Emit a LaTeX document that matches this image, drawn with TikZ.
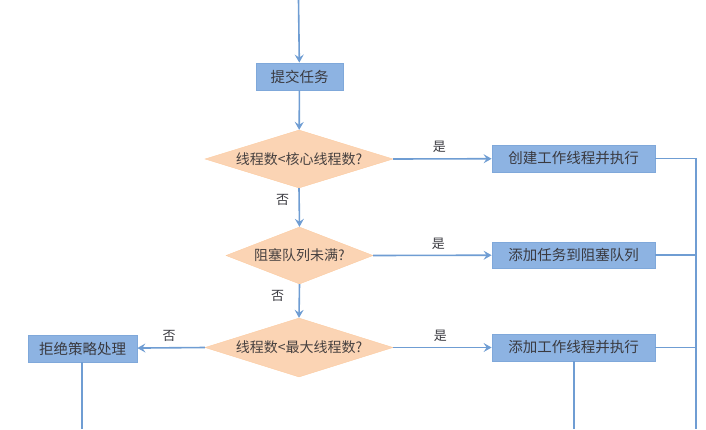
\documentclass[tikz,border=0pt]{standalone}
\usepackage{fontspec}
\setmainfont{Noto Sans CJK SC}
\usepackage{xcolor}
\usepackage{tikz}
\usetikzlibrary{positioning}
\usetikzlibrary{arrows.meta}
\usetikzlibrary{shapes.geometric}
\definecolor{boxblue}{HTML}{8DB3E2}
\definecolor{boxedge}{HTML}{7FA8DA}
\definecolor{peach}{HTML}{FBD4B4}
\definecolor{flowblue}{HTML}{6F9DD3}
\definecolor{inkgray}{HTML}{3A3A40}
\tikzset {
  % rectangular step boxes
  task/.style = {draw=boxedge, fill=boxblue, line width=0.8pt, minimum height=27pt,
    inner sep=0pt, font=\fontsize{14.5}{15}\selectfont, text=inkgray},
  % decision diamonds
  check/.style = {diamond, fill=peach, draw=peach!90!orange, inner sep=0pt,
    font=\fontsize{14}{15}\selectfont, text=inkgray!90!brown},
  % connectors
  flow/.style = {flowblue, line width=1.6pt},
  go/.style = {flow, -{Stealth[length=8pt, width=9pt, inset=3pt]}},
  % yes / no labels
  ans/.style = {font=\fontsize{13}{14}\selectfont, text=inkgray},
}

\begin{document}
\begin{tikzpicture}[x=1pt, y=-1pt]
        \useasboundingbox (0, 0) rectangle (706, 429);

        \coordinate (in) at (298.5, 0);
        \node[task, minimum width=87pt] (submit) at (299.5, 76.5) {提交任务};
        \node[check, aspect=3.24, minimum width=188pt, minimum height=58pt] (core) at (299, 159) {线程数<核心线程数?};
        \node[check, aspect=2.58, minimum width=147pt, minimum height=57pt] (queue) at (299.5, 255.5) {阻塞队列未满?};
        \node[check, aspect=3.2, minimum width=188pt, minimum height=59pt] (max) at (299, 347.5) {线程数<最大线程数?};

        \node[task, minimum width=163pt] (create) at (573.5, 158.5) {创建工作线程并执行};
        \node[task, minimum width=163pt, minimum height=26pt] (enqueue) at (573.5, 255) {添加任务到阻塞队列};
        \node[task, minimum width=163pt] (addwork) at (573.5, 347.5) {添加工作线程并执行};
        \node[task, minimum width=109pt] (reject) at (82.5, 348.5) {拒绝策略处理};

        % right-hand collector line and lines running off the bottom
        \coordinate (r1) at (696, 158.5);
        \coordinate (r2) at (696, 255);
        \coordinate (r3) at (696, 347.5);
        \coordinate (rend) at (696, 429);
        \coordinate (aend) at (574, 429);
        \coordinate (xend) at (82, 429);

        \draw [go] (in) to (submit);
        \draw [go] (submit) to (core);

        \draw [go] (core.east) to node[ans, pos=0.47, above=2pt] {是} (create);
        \draw [go] (core.south) to node[ans, pos=0.3, left=6pt] {否} (queue.north);

        \draw [go] (queue.east) to node[ans, pos=0.55, above=2pt] {是} (enqueue);
        \draw [go] (queue.south) to node[ans, pos=0.35, left=11pt] {否} (max.north);

        \draw [go] (max.east) to node[ans, pos=0.48, above=2pt] {是} (addwork);
        \draw [go] (max.west) to node[ans, pos=0.53, above=2pt] {否} (reject);

        \draw [flow] (create.east) -- (r1) -- (rend);
        \draw [flow] (enqueue.east) -- (r2);
        \draw [flow] (addwork.east) -- (r3);
        \draw [flow] (addwork.south -| aend) -- (aend);
        \draw [flow] (reject.south -| xend) -- (xend);
      \end{tikzpicture}
\end{document}
